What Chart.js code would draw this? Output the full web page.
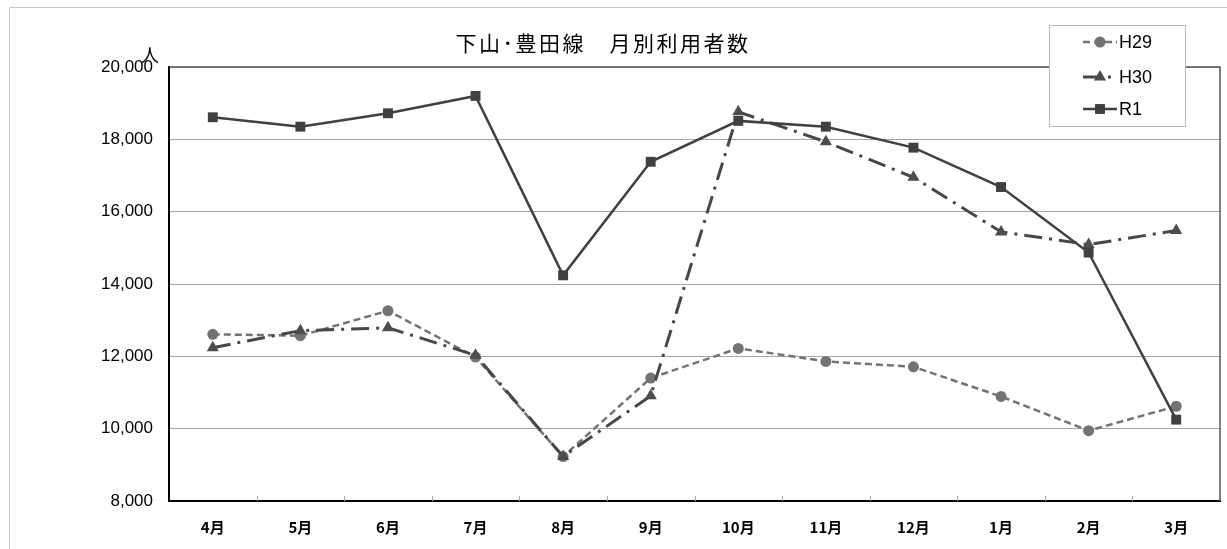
<!DOCTYPE html>
<html>
<head>
<meta charset="utf-8">
<script src="https://cdn.jsdelivr.net/npm/chart.js@4/dist/chart.umd.min.js"></script>
<style>
  body { margin: 0; background: #fff; }
  canvas { display: block; }
</style>
</head>
<body>
<canvas id="usersChart" width="1227" height="549"></canvas>
<script>
const months = ["4月", "5月", "6月", "7月", "8月", "9月", "10月", "11月", "12月", "1月", "2月", "3月"];
const h29 = [12610, 12570, 13260, 11980, 9230, 11400, 12220, 11860, 11710, 10890, 9945, 10620];
const h30 = [12240, 12710, 12790, 12030, 9230, 10910, 18760, 17930, 16950, 15440, 15090, 15480];
const r1 = [18610, 18350, 18720, 19200, 14240, 17380, 18510, 18350, 17770, 16680, 14870, 10250];
const chartTitle = "下山･豊田線　月別利用者数";
const unitLabel = "人";

// frame, title, unit, inner ticks and boxed legend
const decorations = {
    id: 'decorations',
    beforeDatasetsDraw(chart) {
        const ctx = chart.ctx;
        const area = chart.chartArea;
        ctx.save();
        ctx.strokeStyle = '#555';
        ctx.lineWidth = 1.5;
        ctx.beginPath();
        ctx.moveTo(area.left, area.top);
        ctx.lineTo(area.right, area.top);
        ctx.lineTo(area.right, area.bottom);
        ctx.stroke();

        // small ticks between months, pointing up into the plot
        const xs = chart.scales.x;
        const step = (area.right - area.left) / months.length;
        ctx.strokeStyle = '#aaa';
        ctx.lineWidth = 1;
        for (let i = 1; i < months.length; i++) {
            const x = Math.round(xs.getPixelForValue(i) - step / 2) + 0.5;
            ctx.beginPath();
            ctx.moveTo(x, area.bottom - 5);
            ctx.lineTo(x, area.bottom);
            ctx.stroke();
        }
        ctx.restore();
    },
    afterDraw(chart) {
        const ctx = chart.ctx;
        ctx.save();
        // outer frame
        ctx.strokeStyle = '#c8c8c8';
        ctx.lineWidth = 1;
        ctx.beginPath();
        ctx.moveTo(9.5, 549);
        ctx.lineTo(9.5, 7.5);
        ctx.lineTo(1227, 7.5);
        ctx.stroke();

        ctx.fillStyle = '#000';
        ctx.font = '21px "Noto Sans CJK JP"';
        ctx.letterSpacing = '2.5px';
        ctx.textAlign = 'center';
        ctx.textBaseline = 'middle';
        ctx.fillText(chartTitle, 603, 43);
        ctx.letterSpacing = '0px';

        ctx.font = '18px "Noto Sans CJK JP"';
        ctx.fillText(unitLabel, 150, 55);

        // legend
        ctx.fillStyle = '#fff';
        ctx.fillRect(1049, 25, 136, 101);
        ctx.strokeStyle = '#bbb';
        ctx.lineWidth = 1;
        ctx.strokeRect(1049.5, 25.5, 136, 101);
        const rows = [42, 77, 109];
        chart.data.datasets.forEach((ds, i) => {
            const y = rows[i];
            ctx.strokeStyle = ds.borderColor;
            ctx.lineWidth = ds.borderWidth;
            ctx.setLineDash(ds.borderDash || []);
            ctx.beginPath();
            ctx.moveTo(1083, y);
            ctx.lineTo(1117, y);
            ctx.stroke();
            ctx.setLineDash([]);
            ctx.fillStyle = ds.pointBackgroundColor;
            ctx.strokeStyle = ds.pointBackgroundColor;
            Chart.helpers.drawPoint(ctx, {
                pointStyle: ds.pointStyle,
                radius: ds.pointRadius,
                rotation: 0,
                borderWidth: 0
            }, 1100, y);
            ctx.fillStyle = '#000';
            ctx.font = '18px "Liberation Sans"';
            ctx.textAlign = 'left';
            ctx.fillText(ds.label, 1119, y + 1);
        });
        ctx.restore();
    }
};

var usersChart = new Chart(document.getElementById('usersChart'), {
    type: 'line',
    data: {
        labels: months,
        datasets: [{
            label: "H29",
            data: h29,
            borderColor: "#737373",
            pointBackgroundColor: "#737373",
            pointBorderWidth: 0,
            borderWidth: 2.5,
            borderDash: [7, 4],
            pointStyle: 'circle',
            pointRadius: 5.5,
            order: 3,
            fill: false
        }, {
            label: "H30",
            data: h30,
            borderColor: "#474747",
            pointBackgroundColor: "#4d4d4d",
            pointBorderWidth: 0,
            borderWidth: 3,
            borderDash: [18, 7, 3, 7],
            pointStyle: 'triangle',
            pointRadius: 7,
            order: 2,
            fill: false
        }, {
            label: "R1",
            data: r1,
            borderColor: "#404040",
            pointBackgroundColor: "#404040",
            pointBorderWidth: 0,
            borderWidth: 2.5,
            pointStyle: 'rect',
            pointRadius: 7,
            order: 1,
            fill: false
        }]
    },
    options: {
        responsive: false,
        animation: false,
        devicePixelRatio: 1,
        layout: { padding: { top: 67, right: 2, left: 0, bottom: 0 } },
        plugins: {
            legend: { display: false },
            title: { display: false },
            tooltip: { enabled: false }
        },
        scales: {
            x: {
                offset: true,
                grid: { display: false, drawTicks: false },
                border: { color: '#000', width: 2 },
                ticks: {
                    padding: 17,
                    color: '#000',
                    font: { family: '"Noto Sans CJK JP"', size: 15, weight: 'bold' }
                },
                afterFit(scale) { scale.height = 48; }
            },
            y: {
                min: 8000,
                max: 20000,
                grid: { color: '#a6a6a6', lineWidth: 1, drawTicks: false },
                border: { color: '#000', width: 2 },
                ticks: {
                    stepSize: 2000,
                    padding: 16,
                    color: '#000',
                    font: { family: '"Liberation Sans"', size: 17 },
                    callback: (v) => v.toLocaleString('en-US')
                },
                afterFit(scale) { scale.width = 169; }
            }
        }
    },
    plugins: [decorations]
});
</script>
</body>
</html>
